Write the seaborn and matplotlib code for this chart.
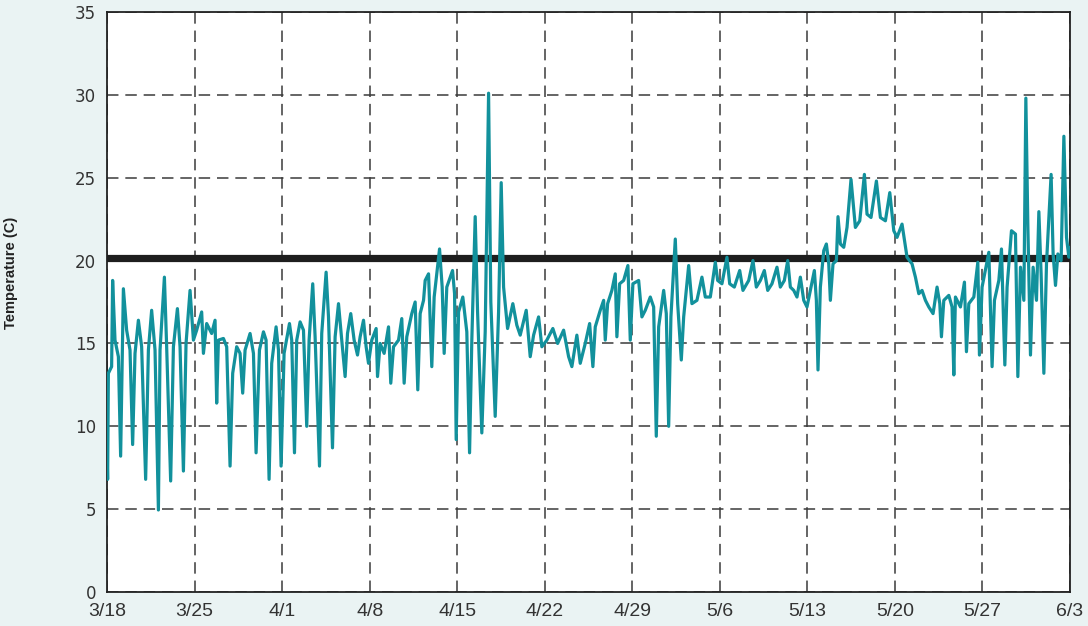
import numpy as np
import pandas as pd
import matplotlib
matplotlib.use('Agg')
import matplotlib.pyplot as plt
import seaborn as sns

# days since 3/18 and water temperature (C)
day_offset = [
    0.00, 0.05, 0.11, 0.37, 0.45, 0.64, 0.91, 1.09, 1.31, 1.57, 1.84, 2.05, 2.24, 2.51, 2.77,
    3.09, 3.31, 3.57, 3.84, 4.11, 4.24, 4.59, 4.77, 5.09, 5.31, 5.63, 5.84, 6.11, 6.32, 6.64,
    6.91, 7.17, 7.57, 7.71, 7.97, 8.37, 8.64, 8.77, 8.91, 9.31, 9.57, 9.84, 10.05, 10.37, 10.64,
    10.85, 11.04, 11.44, 11.71, 11.92, 12.19, 12.51, 12.72, 12.96, 13.17, 13.52, 13.71, 13.92, 14.16, 14.59,
    14.77, 14.99, 15.17, 15.44, 15.71, 15.97, 16.16, 16.45, 16.64, 16.99, 17.17, 17.52, 17.71, 18.03, 18.24,
    18.51, 18.77, 19.04, 19.23, 19.49, 19.76, 20.03, 20.24, 20.51, 20.72, 20.91, 21.17, 21.52, 21.63, 21.84,
    22.16, 22.51, 22.69, 22.91, 23.31, 23.57, 23.76, 23.97, 24.37, 24.64, 24.85, 25.04, 25.31, 25.44, 25.71,
    25.97, 26.16, 26.59, 26.80, 26.96, 27.17, 27.63, 27.79, 27.92, 28.11, 28.45, 28.77, 28.99, 29.17, 29.44,
    29.63, 29.97, 30.24, 30.51, 30.69, 31.04, 31.31, 31.52, 31.71, 32.03, 32.45, 32.77, 33.04, 33.52, 33.84,
    34.11, 34.51, 34.77, 35.17, 35.65, 36.03, 36.51, 36.91, 37.17, 37.57, 37.84, 38.24, 38.59, 38.85, 39.04,
    39.44, 39.71, 39.84, 40.03, 40.37, 40.64, 40.77, 40.99, 41.31, 41.65, 41.84, 42.05, 42.51, 42.77, 43.04,
    43.44, 43.71, 43.92, 44.11, 44.51, 44.72, 44.91, 45.09, 45.44, 45.63, 45.92, 46.11, 46.51, 46.77, 47.17,
    47.57, 47.84, 48.24, 48.64, 48.83, 49.17, 49.57, 49.79, 50.16, 50.59, 50.85, 51.31, 51.65, 51.92, 52.24,
    52.56, 52.83, 53.17, 53.57, 53.84, 54.16, 54.43, 54.64, 54.91, 55.17, 55.44, 55.71, 55.97, 56.29, 56.56,
    56.72, 56.85, 57.04, 57.31, 57.52, 57.71, 57.84, 58.05, 58.32, 58.45, 58.64, 58.91, 59.17, 59.49, 59.84,
    60.19, 60.56, 60.77, 61.09, 61.52, 61.84, 62.24, 62.59, 62.91, 63.17, 63.57, 63.97, 64.37, 64.64, 64.91,
    65.17, 65.44, 65.71, 66.05, 66.37, 66.59, 66.72, 66.91, 67.31, 67.57, 67.71, 67.84, 68.24, 68.56, 68.72,
    68.91, 69.31, 69.63, 69.76, 69.97, 70.51, 70.77, 70.96, 71.31, 71.52, 71.79, 71.97, 72.32, 72.64, 72.83,
    73.04, 73.31, 73.47, 73.63, 73.84, 74.05, 74.32, 74.51, 74.69, 74.91, 75.12, 75.49, 75.65, 75.84, 76.03,
    76.29, 76.51, 76.72, 76.91, 77.00,
]
temp_c = [
    8.7, 6.8, 13.2, 13.6, 18.8, 15.2, 14.2, 8.2, 18.3, 15.8, 14.6, 8.9, 14.4, 16.4, 14.8,
    6.8, 14.6, 17.0, 14.6, 4.95, 14.6, 19.0, 14.8, 6.7, 14.8, 17.1, 14.8, 7.3, 15.0, 18.2,
    15.2, 15.8, 16.9, 14.4, 16.2, 15.6, 16.4, 11.4, 15.2, 15.3, 14.8, 7.6, 13.2, 14.8, 14.4,
    12.0, 14.6, 15.6, 14.4, 8.4, 14.6, 15.7, 15.2, 6.8, 13.8, 16.0, 14.6, 7.6, 14.4, 16.2,
    15.2, 8.4, 15.2, 16.3, 15.8, 10.0, 15.2, 18.6, 15.4, 7.6, 15.6, 19.3, 16.6, 8.7, 15.4,
    17.4, 15.2, 13.0, 15.6, 16.8, 15.2, 14.3, 15.4, 16.4, 14.8, 13.8, 15.2, 15.9, 13.0, 15.0,
    14.4, 16.0, 12.6, 14.8, 15.2, 16.5, 12.6, 15.4, 16.8, 17.5, 12.2, 16.8, 17.6, 18.8, 19.2,
    13.6, 17.8, 20.7, 18.4, 14.4, 18.4, 19.4, 18.0, 9.2, 16.9, 17.8, 15.7, 8.4, 15.2, 22.65,
    16.9, 9.6, 15.7, 30.1, 17.5, 10.6, 16.9, 24.7, 18.4, 15.9, 17.4, 16.1, 15.5, 17.0, 14.2,
    15.5, 16.6, 14.8, 15.2, 15.9, 15.0, 15.8, 14.2, 13.6, 15.5, 13.8, 15.0, 16.2, 13.6, 16.0,
    17.0, 17.6, 15.2, 17.4, 18.2, 19.2, 15.4, 18.6, 18.8, 19.7, 15.2, 18.6, 18.8, 16.6, 17.0,
    17.8, 17.2, 9.4, 16.0, 18.2, 16.8, 10.0, 16.6, 21.3, 17.4, 14.0, 16.6, 19.7, 17.4, 17.6,
    19.0, 17.8, 17.8, 19.9, 18.8, 18.6, 20.2, 18.6, 18.4, 19.4, 18.2, 18.8, 20.0, 18.4, 18.8,
    19.4, 18.2, 18.6, 19.6, 18.4, 18.8, 20.0, 18.4, 18.2, 17.8, 19.0, 17.6, 17.2, 18.4, 19.4,
    17.6, 13.4, 18.4, 20.6, 21.0, 19.8, 17.6, 19.8, 20.0, 22.65, 21.0, 20.8, 22.0, 24.9, 22.0,
    22.4, 25.2, 22.8, 22.6, 24.8, 22.6, 22.4, 24.1, 21.8, 21.4, 22.2, 20.2, 19.8, 19.0, 18.0,
    18.2, 17.6, 17.2, 16.8, 18.4, 17.4, 15.4, 17.6, 17.9, 17.2, 13.1, 17.8, 17.2, 18.7, 14.5,
    17.4, 17.8, 19.9, 14.3, 18.4, 20.5, 13.6, 17.6, 18.8, 20.7, 13.7, 18.4, 21.8, 21.6, 13.0,
    19.6, 17.6, 29.8, 22.1, 14.3, 19.6, 17.6, 22.95, 19.2, 13.2, 19.8, 25.2, 20.4, 18.5, 20.4,
    20.0, 27.5, 21.4, 20.2, 20.8,
]

threshold = 20.15
start_date = '2009-03-18'
end_date = '2009-06-03'
tick_labels = ['3/18', '3/25', '4/1', '4/8', '4/15', '4/22', '4/29',
               '5/6', '5/13', '5/20', '5/27', '6/3']
y_ticks = [0, 5, 10, 15, 20, 25, 30, 35]

df = pd.DataFrame({
    'time': pd.Timestamp(start_date) + pd.to_timedelta(day_offset, unit='D'),
    'temp': temp_c,
})

sns.set_style('white')
plt.rcParams['font.family'] = ['DejaVu Sans']

bg = '#eaf3f3'
teal = '#12919c'

fig = plt.figure(figsize=(10.88, 6.26), dpi=100, facecolor=bg)
ax = fig.add_axes([107 / 1088, 1 - 592 / 626, 963 / 1088, 580 / 626])
ax.set_facecolor('white')

ax.axhline(threshold, color='#1e1e1e', lw=5.2, zorder=3)
sns.lineplot(data=df, x='time', y='temp', ax=ax, color=teal, lw=2.3,
             sort=False, estimator=None, zorder=4)

x_ticks = pd.date_range(start_date, end_date, freq='7D')
ax.set_xlim(pd.Timestamp(start_date), pd.Timestamp(end_date))
ax.set_xticks(x_ticks)
ax.set_xticklabels(tick_labels, family=['Liberation Sans Narrow', 'Liberation Sans'],
                   fontsize=14, color='#333333')
ax.set_ylim(0, 35)
ax.set_yticks(y_ticks)
ax.set_yticklabels([str(v) for v in y_ticks], fontsize=12, color='#333333')

ax.grid(True, color='#3a3a3a', lw=1.1, linestyle=(0, (7.5, 4.5)))
ax.set_axisbelow(True)
for s in ax.spines.values():
    s.set_color('#222222')
    s.set_linewidth(1.3)

ax.tick_params(axis='y', direction='out', length=5, width=1.1, color='#333333', pad=3)
ax.tick_params(axis='x', direction='inout', length=8, width=1.1, color='#333333', pad=4)

ax.set_xlabel('')
ax.set_ylabel('Temperature (C)', fontsize=10.5, fontweight='bold',
              family=['Liberation Sans Narrow', 'Liberation Sans'], color='#222222')
ax.yaxis.set_label_coords(-0.092, 0.55)

plt.savefig('out.png', dpi=100, facecolor=bg)
plt.close('all')
